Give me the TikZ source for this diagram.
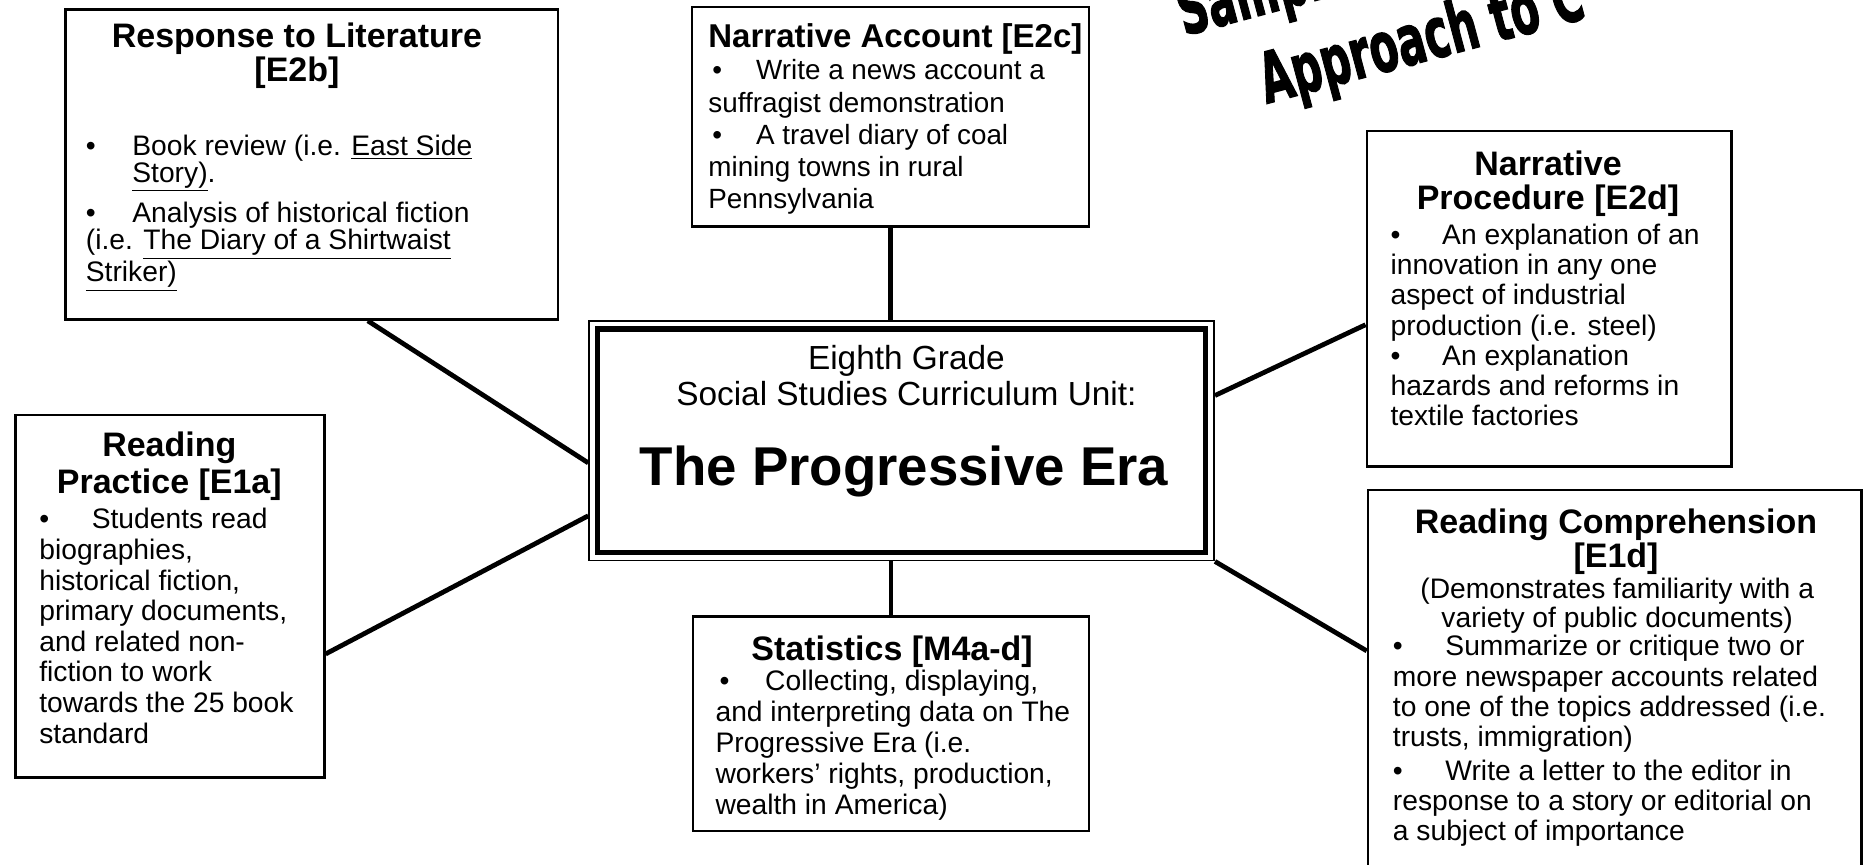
\documentclass[tikz,border=0pt]{standalone}
\usepackage{fontspec}
\setmainfont{Liberation Sans}
\newfontfamily\heavyfont[BoldFeatures={FakeBold=2}]{DejaVu Sans}
\usetikzlibrary{fit,calc}
\newcommand{\myfs}[2]{\fontsize{#1}{#2}\selectfont}
\newcommand{\mybul}[1]{\makebox[#1][l]{\textbullet}}
\newcommand{\myul}[1]{\underline{#1}}
\begin{document}
\begin{tikzpicture}[x=0.6pt,y=-0.6pt,
  box/.style={draw=black, line width=1.2pt, inner sep=0pt, rectangle},
  link/.style={draw=black, line width=2.4pt},
  txt/.style={inner sep=0pt, outer sep=0pt, text=black},
  ttl/.style={txt, font=\myfs{17.1pt}{17.4pt}\bfseries},
  body/.style={txt, anchor=base west},
  rot/.style={txt, font=\heavyfont\bfseries\myfs{35pt}{35pt}, rotate=15, xscale=0.6, anchor=base west},
]
\useasboundingbox (0,0) rectangle (1568,725);
\fill[white] (0,0) rectangle (1568,725);
\clip (0,0) rectangle (1568,725);

% boxes
\node[box, fit={(55,8)(468,268)}] (rl) {};
\node[box, fit={(580,6)(913,190)}] (na) {};
\node[box, fit={(1146,110)(1452,391)}] (np) {};
\node[box, fit={(13,348)(272,652)}] (rp) {};
\node[box, fit={(581,517)(913,697)}] (st) {};
\node[box, fit={(1147,411)(1561,745)}] (rc) {};
\node[draw, line width=0.9pt, inner sep=0pt, fit={(494,269)(1018,470)}] (ctr) {};
\node[draw, line width=2.7pt, inner sep=0pt, fit={(501,276)(1011,463)}] (ctrin) {};

% connectors
\draw[link] ($(rl.south west)!0.613!(rl.south east)$) -- ($(ctr.north west)!0.592!(ctr.south west)$);
\draw[link] ($(rp.north east)!0.658!(rp.south east)$) -- ($(ctr.north west)!0.811!(ctr.south west)$);
\draw[link] (na.south) -- (na.south |- ctr.north);
\draw[link] (st.north) -- (st.north |- ctr.south);
\draw[link] ($(np.north west)!0.577!(np.south west)$) -- ($(ctr.north east)!0.313!(ctr.south east)$);
\draw[link] ($(rc.north west)!0.404!(rc.south west)$) -- (ctr.south east);

% Response to Literature
\node[ttl, anchor=base] (rlt) at (249,40) {\parbox[t]{300pt}{\centering\baselineskip=16.8pt Response to Literature\\ \mbox{[E2b]}}};
\node[body] (rlb) at (72,130) {\parbox[t]{300pt}{\myfs{14.2pt}{13.6pt}\mybul{23.4pt}Book review (i.e. \myul{East Side}\\ \hspace*{23.4pt}\myul{Story)}.\\[4.2pt] \mybul{23.4pt}Analysis of historical fiction\\ (i.e. \myul{The Diary of a Shirtwaist}\\ \myul{Striker)}}};

% Narrative Account
\node[txt, font=\myfs{16.6pt}{17pt}\bfseries, anchor=base west] (nat) at (594,40) {Narrative Account [E2c]};
\node[body] (nab) at (594,67) {\parbox[t]{300pt}{\myfs{14pt}{16.2pt}\hspace*{2pt}\mybul{22pt}Write a news account a\\ suffragist demonstration\\ \hspace*{2pt}\mybul{22pt}A travel diary of coal\\ mining towns in rural\\ Pennsylvania}};

% Centre
\node[txt, font=\myfs{16.8pt}{18pt}, anchor=base] (c1) at (760,310) {\parbox[t]{300pt}{\centering Eighth Grade\\ Social Studies Curriculum Unit:}};
\node[txt, font=\myfs{27.5pt}{30pt}\bfseries, anchor=base] (c2) at (758,407) {The Progressive Era};

% Narrative Procedure
\node[ttl, anchor=base] (npt) at (1298,147) {\parbox[t]{300pt}{\centering Narrative\\ Procedure [E2d]}};
\node[body] (npb) at (1166,205) {\parbox[t]{300pt}{\myfs{14.2pt}{15.2pt}\mybul{26pt}An explanation of an\\ innovation in any one\\ aspect of industrial\\ production (i.e. steel)\\ \mybul{26pt}An explanation\\ hazards and reforms in\\ textile factories}};

% Reading Practice
\node[ttl, anchor=base] (rpt) at (142,383) {\parbox[t]{200pt}{\centering\baselineskip=18.6pt Reading\\ Practice [E1a]}};
\node[body] (rpb) at (33,443.5) {\parbox[t]{300pt}{\myfs{14.2pt}{15.4pt}\mybul{26.4pt}Students read\\ biographies,\\ historical fiction,\\ primary documents,\\ and related non-\\ fiction to work\\ towards the 25 book\\ standard}};

% Statistics
\node[ttl, anchor=base] (stt) at (748,554) {Statistics [M4a-d]};
\node[body] (stb) at (600,579) {\parbox[t]{300pt}{\myfs{14.2pt}{15.6pt}\hspace*{2pt}\mybul{23pt}Collecting, displaying,\\ and interpreting data on The\\ Progressive Era (i.e.\\ workers' rights, production,\\ wealth in America)}};

% Reading Comprehension
\node[ttl, anchor=base] (rct) at (1355,447) {\parbox[t]{300pt}{\centering Reading Comprehension\\ \mbox{[E1d]}}};
\node[txt, font=\myfs{14.2pt}{14.4pt}, anchor=base] (rcs) at (1356,502) {\parbox[t]{300pt}{\centering (Demonstrates familiarity with a\\ variety of public documents)}};
\node[body] (rcb) at (1168,550) {\parbox[t]{300pt}{\myfs{14.2pt}{15.2pt}\mybul{26.4pt}Summarize or critique two or\\ more newspaper accounts related\\ to one of the topics addressed (i.e.\\ trusts, immigration)\\[1.8pt] \mybul{26.4pt}Write a letter to the editor in\\ response to a story or editorial on\\ a subject of importance}};

% rotated heading fragment
\node[rot] (sam) at (993,30) {Sample};
\node[rot] (app) at (1062,87) {Approach to C};
\end{tikzpicture}
\end{document}
